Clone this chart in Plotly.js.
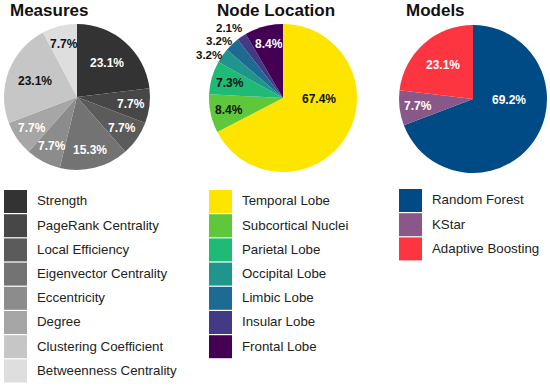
<!DOCTYPE html>
<html>
<head>
<meta charset="utf-8">
<script src="https://cdn.plot.ly/plotly-3.0.1.min.js"></script>
<style>html,body{margin:0;padding:0;background:#fff}#chart{width:550px;height:387px}</style>
</head>
<body>
<div id="chart"></div>
<script>
// ---- data ----
const measureLabels = ["Strength","PageRank Centrality","Local Efficiency","Eigenvector Centrality","Eccentricity","Degree","Clustering Coefficient","Betweenness Centrality"];
const measureValues = [23.1, 7.7, 7.7, 15.3, 7.7, 7.7, 23.1, 7.7];
const measureColors = ["#333333","#474747","#5b5b5b","#737373","#8c8c8c","#a6a6a6","#c6c6c6","#dedede"];
const measureTextColors = ["#fff","#fff","#fff","#fff","#fff","#fff","#111","#111"];

const nodeLabels = ["Temporal Lobe","Subcortical Nuclei","Parietal Lobe","Occipital Lobe","Limbic Lobe","Insular Lobe","Frontal Lobe"];
const nodeValues = [67.4, 8.4, 7.3, 3.2, 3.2, 2.1, 8.4];
const nodeColors = ["#fde500","#5ec83a","#1fbb76","#1f958b","#1d6a93","#433a85","#440154"];
const nodeTextColors = ["#111","#111","#111","#111","#111","#111","#fff"];

const modelLabels = ["Random Forest","KStar","Adaptive Boosting"];
const modelValues = [69.2, 7.7, 23.1];
const modelColors = ["#004a85","#8a5888","#fd3540"];
const modelTextColors = ["#fff","#fff","#fff"];

const titles = ["Measures","Node Location","Models"];

// ---- layout helpers ----
const W = 550, H = 387;
const px = v => v / W, py = v => 1 - v / H;
const font = "Liberation Sans, Arial, sans-serif";
const shapes = [], annotations = [];

// dom = [left, right, top, bottom] in pixels
function pie(labels, values, colors, textColors, dom) {
  const cx = (dom[0] + dom[1]) / 2, cy = (dom[2] + dom[3]) / 2;
  const r = Math.min(dom[1] - dom[0], dom[3] - dom[2]) / 2;
  const total = values.reduce((a, b) => a + b, 0);
  let cum = 0, lastOutY = null;
  values.forEach((v, i) => {
    const mid = (cum + v / 2) / total * 2 * Math.PI; // clockwise from 12 o'clock
    cum += v;
    let ang = mid, rr;
    const f = v / total, outside = f < 0.05;
    if (f > 0.5) { ang = Math.PI / 2 + 0.03; rr = 0.48 * r; }
    else if (f >= 0.2) rr = 0.62 * r;
    else if (!outside) rr = 0.75 * r;
    else { ang = mid - 0.08; rr = 1.16 * r; }
    const x = cx + rr * Math.sin(ang);
    let y = cy - rr * Math.cos(ang);
    if (outside) {               // keep stacked outside labels apart
      if (lastOutY !== null && y > lastOutY - 12.5) y = lastOutY - 12.5;
      lastOutY = y;
    }
    annotations.push({
      text: v.toFixed(1) + "%", xref: "paper", yref: "paper", x: px(x), y: py(y),
      xanchor: "center", yanchor: "middle", showarrow: false,
      font: {family: font, size: outside ? 11.5 : 12, weight: "bold", color: outside ? "#111" : textColors[i]}
    });
  });
  return {
    type: "pie", labels, values, sort: false, direction: "clockwise", rotation: 0,
    marker: {colors, line: {color: "#ffffff", width: 0}},
    textinfo: "none",
    domain: {x: [px(dom[0]), px(dom[1])], y: [py(dom[3]), py(dom[2])]},
    showlegend: false, hoverinfo: "label+percent"
  };
}

const data = [
  pie(measureLabels, measureValues, measureColors, measureTextColors, [4, 150, 24, 170]),
  pie(nodeLabels, nodeValues, nodeColors, nodeTextColors, [209, 357, 24, 172]),
  pie(modelLabels, modelValues, modelColors, modelTextColors, [399, 547, 25, 173])
];

const titleX = [49, 276, 435];
titles.forEach((t, i) => annotations.push({
  text: t, x: px(titleX[i]), y: py(11), xref: "paper", yref: "paper",
  xanchor: "center", yanchor: "middle", showarrow: false,
  font: {family: font, size: 17, weight: "bold", color: "#111"}
}));

function legend(labels, colors, x0, y0) {
  const sw = 23, step = 24.2;
  labels.forEach((lab, i) => {
    const top = y0 + i * step;
    shapes.push({type: "rect", xref: "paper", yref: "paper",
      x0: px(x0), x1: px(x0 + sw), y0: py(top + step - 1.2), y1: py(top),
      fillcolor: colors[i], line: {width: 0}});
    annotations.push({text: lab, xref: "paper", yref: "paper",
      x: px(x0 + sw + 8), y: py(top + step / 2 - 1.2), xanchor: "left", yanchor: "middle",
      showarrow: false, font: {family: font, size: 13.3, color: "#222"}});
  });
}
legend(measureLabels, measureColors, 4, 190);
legend(nodeLabels, nodeColors, 209, 190);
legend(modelLabels, modelColors, 399, 189);

const layout = {
  width: W, height: H, margin: {l: 0, r: 0, t: 0, b: 0},
  paper_bgcolor: "#fff", plot_bgcolor: "#fff",
  showlegend: false, shapes, annotations
};
Plotly.newPlot("chart", data, layout, {displayModeBar: false, staticPlot: true});
</script>
</body>
</html>
